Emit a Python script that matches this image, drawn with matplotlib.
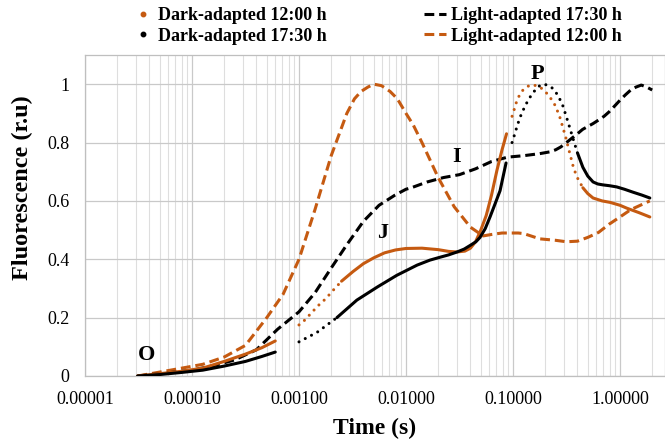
import numpy as np
import matplotlib
matplotlib.use("Agg")
import matplotlib.pyplot as plt
from matplotlib.lines import Line2D
from matplotlib.ticker import FixedLocator, FuncFormatter, LogLocator, NullFormatter

# ---------------- data ----------------
# Light-adapted 12:00 h (orange dashed)
light1200_t = [3.1e-5, 6.3e-5, 1.26e-4, 2.0e-4, 3.16e-4, 5.0e-4, 7.1e-4, 1.0e-3, 1.41e-3,
               2.0e-3, 2.8e-3, 3.3e-3, 3.8e-3, 4.4e-3, 5.0e-3, 5.9e-3, 7.1e-3, 8.3e-3,
               0.01, 0.0117, 0.0141, 0.02, 0.0282, 0.04, 0.0525, 0.063, 0.079, 0.112,
               0.126, 0.178, 0.25, 0.316, 0.40, 0.5, 0.63, 0.79, 1.0, 1.26, 1.9]
light1200_f = [0.0, 0.02, 0.04, 0.065, 0.105, 0.20, 0.28, 0.40, 0.57,
               0.755, 0.90, 0.95, 0.975, 0.99, 1.0, 0.995, 0.975, 0.95,
               0.90, 0.86, 0.80, 0.68, 0.58, 0.51, 0.48, 0.485, 0.49, 0.49,
               0.488, 0.47, 0.465, 0.46, 0.462, 0.475, 0.492, 0.52, 0.545, 0.57, 0.60]

# Light-adapted 17:30 h (black dashed)
light1730_t = [3.1e-5, 6.3e-5, 1.0e-4, 1.58e-4, 2.5e-4, 4.0e-4, 6.3e-4, 1.0e-3, 1.41e-3,
               2.0e-3, 2.8e-3, 4.0e-3, 5.6e-3, 7.9e-3, 0.01, 0.0112, 0.0158, 0.0224,
               0.0316, 0.0447, 0.063, 0.089, 0.126, 0.178, 0.22, 0.25, 0.28, 0.316,
               0.355, 0.40, 0.447, 0.5, 0.56, 0.63, 0.71, 0.79, 0.89, 1.0, 1.12, 1.26,
               1.41, 1.58, 1.78, 2.0]
light1730_f = [0.0, 0.012, 0.02, 0.035, 0.055, 0.09, 0.16, 0.22, 0.285,
               0.37, 0.45, 0.53, 0.585, 0.62, 0.64, 0.645, 0.665, 0.68,
               0.69, 0.71, 0.735, 0.75, 0.755, 0.762, 0.768, 0.775, 0.785, 0.80,
               0.815, 0.83, 0.845, 0.855, 0.865, 0.877, 0.89, 0.905, 0.925, 0.945,
               0.963, 0.98, 0.99, 0.997, 0.99, 0.98]

# Dark-adapted 12:00 h (orange markers)
dark1200_t = [3.1e-5, 5.0e-5, 7.9e-5, 1.26e-4, 2.0e-4, 3.16e-4, 4.5e-4, 6.0e-4,
              1.0e-3, 1.12e-3, 1.26e-3, 1.5e-3, 1.78e-3, 2.1e-3, 2.5e-3, 3.2e-3,
              4.0e-3, 5.0e-3, 6.3e-3, 8.0e-3, 0.01, 0.0141, 0.02, 0.025, 0.03,
              0.0355, 0.04, 0.0447, 0.05, 0.0562, 0.063, 0.0708, 0.079, 0.087,
              0.098, 0.104, 0.109, 0.116, 0.124, 0.138, 0.154, 0.179, 0.20, 0.222,
              0.25, 0.275, 0.31, 0.341, 0.37, 0.405, 0.45, 0.50, 0.56, 0.68, 0.807,
              1.0, 1.16, 1.5, 1.9]
dark1200_f = [0.0, 0.008, 0.016, 0.027, 0.05, 0.075, 0.097, 0.12,
              0.175, 0.19, 0.21, 0.24, 0.265, 0.295, 0.325, 0.358,
              0.385, 0.405, 0.422, 0.432, 0.437, 0.438, 0.433, 0.427, 0.425,
              0.428, 0.438, 0.46, 0.50, 0.55, 0.62, 0.705, 0.775, 0.83,
              0.89, 0.92, 0.945, 0.965, 0.98, 0.993, 0.998, 0.99, 0.975, 0.955,
              0.925, 0.885, 0.82, 0.76, 0.71, 0.675, 0.645, 0.625, 0.61, 0.60, 0.595,
              0.585, 0.575, 0.56, 0.545]

# Dark-adapted 17:30 h (black markers)
dark1730_t = [3.1e-5, 5.0e-5, 7.9e-5, 1.26e-4, 2.0e-4, 3.16e-4, 4.5e-4, 6.0e-4,
              1.0e-3, 1.48e-3, 2.26e-3, 3.47e-3, 5.4e-3, 8.2e-3, 0.0127, 0.0167,
              0.0208, 0.025, 0.030, 0.035, 0.040, 0.045, 0.0492, 0.055, 0.061,
              0.068, 0.0757, 0.0861,
              0.098, 0.104, 0.109, 0.116, 0.124, 0.134, 0.144, 0.155, 0.166, 0.178,
              0.19, 0.21, 0.237, 0.265, 0.293, 0.327, 0.363, 0.40, 0.45, 0.50, 0.56,
              0.62, 0.69, 0.80, 0.93, 1.1, 1.32, 1.6, 1.9]
dark1730_f = [0.0, 0.005, 0.012, 0.02, 0.034, 0.05, 0.067, 0.082,
              0.117, 0.15, 0.20, 0.26, 0.305, 0.345, 0.38, 0.397,
              0.407, 0.415, 0.425, 0.435, 0.448, 0.46, 0.475, 0.505, 0.545,
              0.59, 0.635, 0.73,
              0.80, 0.83, 0.855, 0.885, 0.91, 0.935, 0.955, 0.972, 0.985, 0.995,
              1.0, 0.997, 0.985, 0.96, 0.925, 0.87, 0.815, 0.765, 0.715, 0.685, 0.665,
              0.658, 0.655, 0.652, 0.648, 0.64, 0.63, 0.62, 0.61]

x_ticks = [1e-5, 1e-4, 1e-3, 1e-2, 1e-1, 1e0]
y_ticks = [0, 0.2, 0.4, 0.6, 0.8, 1.0]
phase_labels = ["O", "J", "I", "P"]
phase_t = [3.8e-5, 6.1e-3, 0.030, 0.168]
phase_f = [0.072, 0.49, 0.75, 1.035]

# ---------------- style ----------------
ORANGE = "#C55A11"
BLACK = "#000000"
SERIF = "Liberation Serif"
plt.rcParams["font.family"] = [SERIF, "DejaVu Serif"]

fig = plt.figure(figsize=(6.65, 4.43), dpi=100)
ax = fig.add_axes([85 / 665, 67 / 443, 580 / 665, 321 / 443])

ax.set_xscale("log")
ax.set_xlim(1e-5, 10 ** 0.4206)
ax.set_ylim(0, 1.1)

LW = 2.2
DASH = (0, (3.2, 1.6))
DOT = (0, (0.01, 2.3))


def plot_dark(t, f, color, breaks, dot_ranges):
    t = np.asarray(t)
    f = np.asarray(f)
    # split into separate recorded segments
    edges = [0] + [int(np.searchsorted(t, b)) for b in breaks] + [len(t)]
    for a, b in zip(edges[:-1], edges[1:]):
        ts, fs = t[a:b], f[a:b]
        switch = None
        for lo, hi in dot_ranges:
            if lo * 0.999 <= ts[0] <= hi:
                switch = hi
        if switch is None:
            ax.plot(ts, fs, color=color, lw=LW, solid_capstyle="round",
                    solid_joinstyle="round", zorder=3)
        else:
            k = int(np.searchsorted(ts, switch * 0.999))
            ax.plot(ts[:k + 1], fs[:k + 1], color=color, lw=LW, linestyle=DOT,
                    dash_capstyle="round", zorder=3)
            ax.plot(ts[k:], fs[k:], color=color, lw=LW, solid_capstyle="round",
                    solid_joinstyle="round", zorder=3)


ax.plot(light1200_t, light1200_f, color=ORANGE, lw=LW, linestyle=DASH, zorder=2)
ax.plot(light1730_t, light1730_f, color=BLACK, lw=LW, linestyle=DASH, zorder=2)
plot_dark(dark1200_t, dark1200_f, ORANGE, [8e-4, 0.092], [(1e-3, 2.5e-3), (0.095, 0.45)])
plot_dark(dark1730_t, dark1730_f, BLACK, [8e-4, 0.092], [(1e-3, 2.26e-3), (0.095, 0.40)])

for s, tx, fy in zip(phase_labels, phase_t, phase_f):
    ax.text(tx, fy, s, fontsize=16, fontweight="bold", ha="center", va="center",
            color="black", zorder=4)

# grid
ax.xaxis.set_major_locator(FixedLocator(x_ticks))
ax.xaxis.set_minor_locator(LogLocator(base=10, subs=np.arange(2, 10), numticks=50))
ax.xaxis.set_minor_formatter(NullFormatter())
ax.xaxis.set_major_formatter(FuncFormatter(lambda v, p: f"{v:.5f}"))
ax.yaxis.set_major_locator(FixedLocator(y_ticks))
ax.yaxis.set_major_formatter(FuncFormatter(lambda v, p: "0" if v == 0 else f"{v:g}"))
ax.grid(True, which="major", axis="both", color="#c9c9c9", lw=0.9, zorder=0)
ax.grid(True, which="minor", axis="x", color="#dedede", lw=0.8, zorder=0)
ax.set_axisbelow(True)
ax.tick_params(which="both", length=0, labelsize=13, pad=11)
for sp in ax.spines.values():
    sp.set_color("#bfbfbf")
    sp.set_linewidth(0.9)

ax.set_xlabel("Time (s)", fontsize=17, fontweight="bold")
ax.xaxis.label.set_va("center")
ax.xaxis.set_label_coords(0.5, (376 - 428) / 321)
ax.set_ylabel("Fluorescence (r.u)", fontsize=17.5, fontweight="bold")
ax.yaxis.label.set_va("center")
ax.yaxis.set_label_coords((22 - 85) / 580, (376 - 188) / 321)

# legend
handles = [
    Line2D([], [], color=ORANGE, marker="o", markersize=3.2, linestyle="none"),
    Line2D([], [], color=BLACK, marker="o", markersize=3.2, linestyle="none"),
    Line2D([], [], color=BLACK, lw=LW, linestyle=DASH),
    Line2D([], [], color=ORANGE, lw=LW, linestyle=DASH),
]
labels = ["Dark-adapted 12:00 h", "Dark-adapted 17:30 h",
          "Light-adapted 17:30 h", "Light-adapted 12:00 h"]
fig.legend(handles, labels, ncol=2, loc="upper left",
           bbox_to_anchor=(132 / 665, 1 - 7 / 443), frameon=False,
           prop={"family": SERIF, "weight": "bold", "size": 13},
           handlelength=1.2, handletextpad=0.25, columnspacing=5.4,
           labelspacing=0.2, borderpad=0, borderaxespad=0)

fig.savefig("out.png", dpi=100)
